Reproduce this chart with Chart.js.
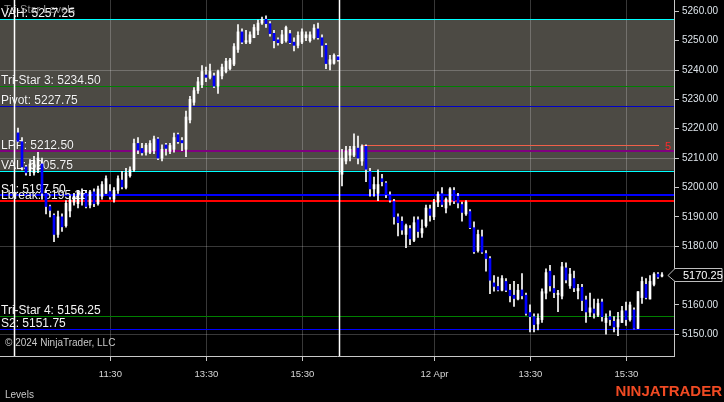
<!DOCTYPE html>
<html>
<head>
<meta charset="utf-8">
<script src="https://cdn.jsdelivr.net/npm/chart.js@4.4.1/dist/chart.umd.min.js"></script>
<style>
  html, body { margin: 0; padding: 0; background: #000; overflow: hidden; }
  #wrap { width: 724px; height: 402px; }
</style>
</head>
<body>
<div id="wrap"><canvas id="chart" width="724" height="402"></canvas></div>
<script>
// 5-minute candles, two sessions (bar index 0-80 = day 1, 81-161 = 12 Apr)
var opens = [
  5218.6, 5215.6, 5207, 5205.5, 5205, 5206, 5208, 5198, 5193.5, 5190.5,
  5184, 5190, 5187, 5192, 5195, 5194.5, 5196, 5198, 5194, 5198.5,
  5194.5, 5197, 5198, 5198.6, 5196, 5199, 5202.5, 5200, 5204, 5206,
  5215, 5213.3, 5212, 5212, 5212.5, 5216.5, 5210, 5214.5, 5212.3, 5213,
  5218, 5216, 5213, 5223, 5229, 5233, 5235, 5238.3, 5237.5, 5238,
  5234.5, 5238, 5239.5, 5240.5, 5242, 5247, 5253, 5249.5, 5249.5, 5251,
  5253.5, 5256, 5257.3, 5255.8, 5252.5, 5250.3, 5249.3, 5250, 5252.4, 5249.5,
  5248.4, 5249.5, 5251, 5250, 5251, 5254, 5251, 5248.4, 5242, 5242.3,
  5244.5,
  5204.5, 5209, 5211, 5211, 5213.4, 5209, 5214, 5205.4, 5199.5, 5198,
  5203, 5201.5, 5197.5, 5195.2, 5190, 5188.5, 5184, 5186, 5182, 5189,
  5184.5, 5187, 5192.7, 5190, 5195, 5197.9, 5193, 5195, 5199, 5197,
  5194.2, 5191, 5191.8, 5186.3, 5178.5, 5183.2, 5177.5, 5175.8, 5167.5, 5166.3,
  5165, 5168, 5165, 5163.3, 5162, 5165.1, 5163.3, 5157.4, 5156, 5153.5,
  5155, 5164, 5171.5, 5165.6, 5163.5, 5163, 5172.6, 5166.5, 5169, 5164.8,
  5166, 5161.7, 5157.5, 5158.6, 5156.5, 5161, 5154, 5156, 5154.4, 5152.5,
  5154, 5158, 5155, 5158.3, 5152, 5162.5, 5167, 5162, 5167, 5170.5,
  5169.8
];
var highs = [
  5220.2, 5217, 5207.5, 5209.5, 5210.6, 5212, 5210, 5199, 5194, 5191,
  5192, 5191, 5195.5, 5197, 5198, 5199, 5199.5, 5199, 5199, 5199.5,
  5200.5, 5202, 5204, 5201, 5200, 5204, 5205.5, 5206.5, 5207, 5216.5,
  5217, 5215, 5215, 5216, 5217.5, 5217, 5214.5, 5215, 5215, 5218.5,
  5218.5, 5217, 5226, 5231, 5234, 5237.5, 5241.5, 5241, 5242, 5239,
  5240, 5242, 5244, 5244, 5249, 5255.5, 5254, 5253.5, 5253, 5255.5,
  5257, 5258, 5258.5, 5256.5, 5253.5, 5251, 5253.5, 5255, 5253.5, 5251,
  5253, 5254, 5253, 5253, 5255.5, 5256, 5252, 5249, 5245, 5245.5,
  5245,
  5213, 5214, 5214, 5218.3, 5217.5, 5214.5, 5214.5, 5206.5, 5203.5, 5206,
  5204.5, 5202, 5198.5, 5196, 5191, 5190, 5187.5, 5187, 5190, 5190,
  5189, 5194, 5194, 5196, 5198.5, 5200, 5196.5, 5200, 5200, 5198,
  5195, 5195.5, 5192.5, 5188.3, 5185.5, 5185.5, 5178.5, 5176.5, 5170, 5169.5,
  5170, 5169, 5167, 5168, 5167, 5170.7, 5164, 5160, 5157, 5157,
  5165.5, 5172.3, 5173.5, 5170, 5165, 5174.5, 5174.3, 5172.5, 5171.5, 5167,
  5167, 5163, 5164, 5162, 5162, 5162, 5157, 5158, 5156, 5157.5,
  5159.5, 5161, 5161, 5159, 5164.5, 5169.5, 5169, 5170, 5171, 5171,
  5171
];
var lows = [
  5215.4, 5206, 5204.2, 5204, 5204.2, 5205, 5196, 5191, 5190, 5181.5,
  5183, 5185, 5186.5, 5190, 5194, 5193, 5194, 5193, 5193, 5193.5,
  5194, 5196, 5198, 5196, 5195, 5198, 5199.5, 5199.5, 5203.5, 5205.5,
  5211.5, 5211, 5211, 5211.5, 5211.5, 5209.5, 5209, 5211, 5211.5, 5212,
  5215, 5212.5, 5210.5, 5222, 5228, 5232, 5234, 5236, 5237, 5234,
  5232, 5237, 5239, 5240, 5241.5, 5246, 5249, 5249, 5249, 5251,
  5252, 5255.5, 5254.5, 5251.5, 5247.5, 5248.5, 5249, 5249.5, 5249, 5246.5,
  5247.5, 5249, 5250, 5249.5, 5250.5, 5250.5, 5244.5, 5240.5, 5240, 5242,
  5243,
  5200.5, 5208, 5209, 5210.5, 5208, 5207.5, 5202, 5197, 5197, 5195.5,
  5200.5, 5196.5, 5195, 5187.5, 5183.5, 5184, 5179.5, 5180.5, 5181.5, 5183,
  5183, 5186.5, 5188.5, 5189, 5193.5, 5193.5, 5191.3, 5194, 5194.5, 5193,
  5188.5, 5190.5, 5186, 5177.5, 5178, 5177.5, 5171.5, 5163.8, 5164.7, 5164.8,
  5164.8, 5164.5, 5161, 5159.5, 5161.7, 5162, 5156.5, 5150.8, 5150.8, 5151.5,
  5154, 5162, 5164.7, 5162.5, 5157.7, 5162, 5167.5, 5165.6, 5164.5, 5162,
  5158, 5154, 5156, 5155.5, 5156, 5154.5, 5150, 5153, 5150.8, 5149.5,
  5154, 5153, 5154.5, 5151.8, 5151.9, 5160.5, 5162, 5162, 5166.5, 5169,
  5169.5
];
var closes = [
  5215.7, 5207, 5205, 5208, 5209, 5210, 5198, 5193.5, 5192.2, 5184,
  5190, 5186.6, 5194.6, 5195.7, 5197, 5198.5, 5198, 5193.5, 5198.5, 5194.5,
  5199.5, 5201, 5203, 5196.8, 5199, 5203, 5200.2, 5205, 5206, 5215,
  5212.7, 5211.8, 5214.4, 5215, 5216.5, 5210, 5213, 5213.3, 5214.3, 5217,
  5215.6, 5215.2, 5224, 5230, 5233, 5236, 5239.5, 5237.5, 5239.5, 5234.5,
  5239.5, 5241, 5243, 5243.4, 5248, 5253, 5249.5, 5250, 5252, 5254.5,
  5256, 5257.3, 5255.8, 5252.4, 5250, 5249.3, 5252, 5254.5, 5249.3, 5248.4,
  5251.8, 5253, 5252, 5252, 5254.3, 5251, 5248.4, 5242.2, 5243.5, 5245,
  5243.5,
  5210, 5212.5, 5213, 5214, 5210, 5214, 5206.2, 5199.5, 5201, 5201,
  5202, 5197.5, 5195.7, 5190, 5188, 5185.5, 5187, 5182.5, 5188, 5185,
  5186, 5193, 5190.5, 5195, 5197.7, 5194.2, 5196, 5199.5, 5195.4, 5194.7,
  5191.5, 5195, 5186.3, 5178.1, 5184, 5178, 5175.8, 5168.4, 5166.3, 5165.1,
  5169, 5165, 5163.1, 5162.2, 5165, 5163.1, 5157.1, 5156, 5153.3, 5155.5,
  5164.5, 5171, 5166.5, 5164.2, 5164, 5173, 5168.5, 5170.5, 5165.8, 5165.6,
  5161.5, 5157.6, 5159, 5157.2, 5160.5, 5156, 5155.5, 5155, 5152.5, 5155,
  5158, 5155, 5160, 5152, 5164.5, 5168, 5162.5, 5168, 5170.5, 5169.5,
  5170.25
];

var tickVals   = [23.1, 47.1, 71.1, 104.1, 128.1, 152.1];
var tickLabels = ['11:30', '13:30', '15:30', '12 Apr', '13:30', '15:30'];
var priceTicks = [5150, 5160, 5170, 5180, 5190, 5200, 5210, 5220, 5230, 5240, 5250, 5260];
var priceGridEvery = 30;

var levelNames  = ['VAH', 'Tri-Star 3', 'Pivot', 'LPP', 'VAL', 'S1', 'Lbreak', 'Tri-Star 4', 'S2'];
var levelPrices = [5257.25, 5234.50, 5227.75, 5212.50, 5205.75, 5197.50, 5195.25, 5156.25, 5151.75];
var valueArea   = [5205.75, 5257.25];
var sessionBreaks = [-1, 80.25];
var rayPrice = 5214.50, rayFrom = 86, rayTo = 160.25, rayText = '5';
var lastPrice = 5170.25;

// styles
var levelColors = ['#00ffff', '#008000', '#0000c8', '#800080', '#00ffff', '#0000ff', '#ff0000', '#008000', '#0000ff'];
var levelWidths = [1, 1, 1, 2, 1, 2, 2, 1, 1];
var GRID = 'rgba(255,255,255,0.22)';
var AXIS = '#c8c8c8';
var SHADE = '#4c4a44';

var idx = opens.map(function (_, i) { return i; });
var wicks = idx.map(function (i) { return { x: i, y: [lows[i], highs[i]] }; });
var upBodies = idx.filter(function (i) { return closes[i] >= opens[i]; })
  .map(function (i) { return { x: i, y: [opens[i], closes[i]] }; });
var downBodies = idx.filter(function (i) { return closes[i] < opens[i]; })
  .map(function (i) { return { x: i, y: [closes[i], opens[i]] }; });

function hline(ctx, y, x1, x2, color, w) {
  var yy = w % 2 === 1 ? Math.round(y) + 0.5 : Math.round(y);
  ctx.strokeStyle = color; ctx.lineWidth = w;
  ctx.beginPath(); ctx.moveTo(x1, yy); ctx.lineTo(x2, yy); ctx.stroke();
}

// no label-overflow padding: the plot runs right up to the canvas top
function noPad(s) { s.paddingTop = 0; s.paddingBottom = 0; s.paddingLeft = 0; s.paddingRight = 0; }

var backdrop = {
  id: 'backdrop',
  beforeDraw: function (chart) {
    var c = chart.ctx, a = chart.chartArea, y = chart.scales.y;
    c.save();
    c.fillStyle = '#000';
    c.fillRect(0, 0, chart.width, chart.height);
    var top = y.getPixelForValue(valueArea[1]), bot = y.getPixelForValue(valueArea[0]);
    c.fillStyle = SHADE;
    c.fillRect(a.left, top, a.right - a.left, bot - top);
    c.restore();
  }
};

var levels = {
  id: 'levels',
  beforeDatasetsDraw: function (chart) {
    var c = chart.ctx, a = chart.chartArea, y = chart.scales.y, x = chart.scales.x;
    c.save();
    c.beginPath(); c.rect(a.left, a.top, a.right - a.left, a.bottom - a.top); c.clip();

    // indicator name, top-left
    c.font = '11px "Liberation Sans", Arial, sans-serif';
    c.fillStyle = 'rgba(170,170,170,0.85)';
    c.textBaseline = 'alphabetic';
    c.fillText('Tri-Star Levels', 4, 13);

    levelPrices.forEach(function (p, i) {
      hline(c, y.getPixelForValue(p), a.left, a.right, levelColors[i], levelWidths[i]);
    });

    // ray with its label
    var ry = y.getPixelForValue(rayPrice);
    hline(c, ry, x.getPixelForValue(rayFrom), x.getPixelForValue(rayTo), '#f0604a', 1);
    c.font = '11px "Liberation Sans", Arial, sans-serif';
    c.fillStyle = '#ff2a2a';
    c.textBaseline = 'middle';
    c.fillText(rayText, x.getPixelForValue(rayTo) + 6, ry + 2);

    // level labels
    c.font = '12px "Liberation Sans", Arial, sans-serif';
    c.textBaseline = 'alphabetic';
    c.shadowColor = 'rgba(0,0,0,0.6)'; c.shadowBlur = 1;
    c.fillStyle = '#f4f4f4';
    levelPrices.forEach(function (p, i) {
      c.fillText(levelNames[i] + ': ' + p.toFixed(2), 1, Math.round(y.getPixelForValue(p)) - 2);
    });
    c.shadowBlur = 0;

    c.font = '10px "Liberation Sans", Arial, sans-serif';
    c.fillStyle = '#c8c8c8';
    c.textBaseline = 'middle';
    c.fillText('\u00a9 2024 NinjaTrader, LLC', 5, a.bottom - 13);

    // session breaks
    sessionBreaks.forEach(function (k) {
      var px = Math.round(x.getPixelForValue(k)) + 0.5;
      c.strokeStyle = '#ffffff'; c.lineWidth = 1.5;
      c.beginPath(); c.moveTo(px, a.top); c.lineTo(px, a.bottom); c.stroke();
    });
    c.restore();
  },
  afterDraw: function (chart) {
    var c = chart.ctx, a = chart.chartArea, y = chart.scales.y;
    c.save();
    // last price marker
    var py = Math.round(y.getPixelForValue(lastPrice)) + 0.5;
    var left = a.right - 6, bl = a.right + 1, br = chart.width - 2;
    c.beginPath();
    c.moveTo(left, py); c.lineTo(bl, py - 7); c.lineTo(br, py - 7);
    c.lineTo(br, py + 6); c.lineTo(bl, py + 6); c.closePath();
    c.fillStyle = '#000'; c.fill();
    c.strokeStyle = '#bdbdbd'; c.lineWidth = 1; c.stroke();
    c.fillStyle = '#ffffff';
    c.font = '11px "Liberation Sans", Arial, sans-serif';
    c.textBaseline = 'middle'; c.textAlign = 'left';
    c.fillText(lastPrice.toFixed(2), a.right + 9, py);

    c.font = '10px "Liberation Sans", Arial, sans-serif';
    c.fillStyle = '#c8c8c8';
    c.fillText('Levels', 5, 395);

    c.font = 'bold 15px "Liberation Sans", Arial, sans-serif';
    c.fillStyle = '#f04a23';
    c.textAlign = 'right';
    c.fillText('NINJATRADER', 722, 392);
    c.restore();
  }
};

new Chart(document.getElementById('chart'), {
  type: 'bar',
  data: {
    datasets: [
      { label: 'wick', data: wicks, backgroundColor: '#ffffff', barThickness: 1, grouped: false, order: 3 },
      { label: 'up', data: upBodies, backgroundColor: '#ffffff', barThickness: 2, minBarLength: 1, grouped: false, order: 2 },
      { label: 'down', data: downBodies, backgroundColor: '#0000ff', barThickness: 2, minBarLength: 1, grouped: false, order: 1 }
    ]
  },
  options: {
    responsive: false,
    animation: false,
    layout: { padding: 0 },
    plugins: { legend: { display: false }, tooltip: { enabled: false } },
    scales: {
      x: {
        type: 'linear',
        min: -4.5, max: 164,
        offset: false,
        afterBuildTicks: function (s) { s.ticks = tickVals.map(function (v) { return { value: v }; }); },
        afterFit: function (s) { s.height = 46; noPad(s); },
        grid: { color: GRID, tickColor: AXIS, tickLength: 5, offset: false },
        border: { color: AXIS },
        ticks: {
          autoSkip: false, maxRotation: 0, padding: 8,
          color: '#d8d8d8',
          font: { family: '"Liberation Sans", Arial, sans-serif', size: 9.5 },
          callback: function (v) { var i = tickVals.indexOf(v); return i < 0 ? '' : tickLabels[i]; }
        }
      },
      y: {
        position: 'right',
        min: 5142.6, max: 5263.85,
        afterBuildTicks: function (s) { s.ticks = priceTicks.map(function (v) { return { value: v }; }); },
        afterFit: function (s) { s.width = 50; noPad(s); },
        grid: {
          color: function (ctx) {
            if (!ctx.tick) return 'rgba(0,0,0,0)';
            return Math.round(ctx.tick.value - priceTicks[0]) % priceGridEvery === 0 ? GRID : 'rgba(0,0,0,0)';
          },
          tickColor: AXIS, tickLength: 5
        },
        border: { color: AXIS },
        ticks: {
          autoSkip: false, padding: 3,
          color: '#dde4ea',
          font: { family: '"Liberation Sans", Arial, sans-serif', size: 10 },
          callback: function (v) { return Number(v).toFixed(2); }
        }
      }
    }
  },
  plugins: [backdrop, levels]
});
</script>
</body>
</html>
